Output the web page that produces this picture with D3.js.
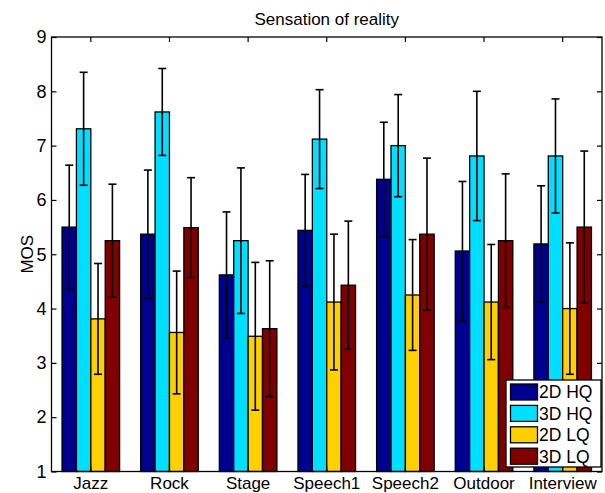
<!DOCTYPE html>
<html>
<head>
<meta charset="utf-8">
<script src="https://cdn.jsdelivr.net/npm/d3@7"></script>
<style>
  body { margin: 0; background: #fff; }
  svg text { font-family: "Liberation Sans", Arial, Helvetica, sans-serif; fill: #000; }
</style>
</head>
<body>
<div id="chart"></div>
<script>
// categories and series
const categories = ["Jazz", "Rock", "Stage", "Speech1", "Speech2", "Outdoor", "Interview"];
const seriesNames = ["2D HQ", "3D HQ", "2D LQ", "3D LQ"];
const seriesColors = ["#000090", "#00DFFF", "#FFD000", "#800000"];

// mean opinion scores, per series
const hq2d = [5.50, 5.37, 4.62, 5.44, 6.38, 5.06, 5.19];
const hq3d = [7.31, 7.62, 5.25, 7.12, 7.00, 6.81, 6.81];
const lq2d = [3.81, 3.56, 3.49, 4.12, 4.25, 4.12, 4.00];
const lq3d = [5.25, 5.49, 3.63, 4.43, 5.37, 5.25, 5.50];

// error bar half-lengths
const hq2dErr = [1.14, 1.18, 1.16, 1.03, 1.05, 1.28, 1.07];
const hq3dErr = [1.04, 0.80, 1.34, 0.91, 0.94, 1.19, 1.05];
const lq2dErr = [1.02, 1.13, 1.36, 1.25, 1.02, 1.06, 1.21];
const lq3dErr = [1.04, 0.92, 1.25, 1.18, 1.40, 1.23, 1.40];

const yTicks = [1, 2, 3, 4, 5, 6, 7, 8, 9];

const means = [hq2d, hq3d, lq2d, lq3d];
const errs = [hq2dErr, hq3dErr, lq2dErr, lq3dErr];

// flat table for drawing
const rows = [];
categories.forEach((c, i) => {
  seriesNames.forEach((s, j) => {
    rows.push({cat: c, series: s, value: means[j][i], err: errs[j][i], color: seriesColors[j]});
  });
});

const width = 605, height = 493;
const plotLeft = 51.5, plotRight = 602, plotTop = 37, plotBottom = 471.5;

const svg = d3.select("#chart").append("svg")
  .attr("width", width)
  .attr("height", height);

const x = d3.scaleBand()
  .domain(categories)
  .range([plotLeft, plotRight])
  .paddingInner(0.268)
  .paddingOuter(0.134);

const xSub = d3.scaleBand()
  .domain(seriesNames)
  .range([0, x.bandwidth()]);

const y = d3.scaleLinear()
  .domain([1, 9])
  .range([plotBottom, plotTop]);

// bars
svg.append("g")
  .selectAll("rect")
  .data(rows)
  .join("rect")
  .attr("x", d => x(d.cat) + xSub(d.series))
  .attr("y", d => y(d.value))
  .attr("width", xSub.bandwidth())
  .attr("height", d => y(1) - y(d.value))
  .attr("fill", d => d.color)
  .attr("stroke", "#000")
  .attr("stroke-width", 1.3);

// error bars
const eb = svg.append("g")
  .attr("stroke", "#000")
  .attr("stroke-width", 1.6)
  .selectAll("g")
  .data(rows)
  .join("g")
  .attr("transform", d => `translate(${x(d.cat) + xSub(d.series) + xSub.bandwidth() / 2},0)`);

eb.append("line")
  .attr("y1", d => y(d.value - d.err))
  .attr("y2", d => y(d.value + d.err));
eb.append("line")
  .attr("x1", -4).attr("x2", 4)
  .attr("y1", d => y(d.value + d.err))
  .attr("y2", d => y(d.value + d.err));
eb.append("line")
  .attr("x1", -4).attr("x2", 4)
  .attr("y1", d => y(d.value - d.err))
  .attr("y2", d => y(d.value - d.err));

// axes, ticks pointing inwards
const yAxis = svg.append("g")
  .attr("transform", `translate(${plotLeft},0)`)
  .call(d3.axisLeft(y).tickValues(yTicks).tickFormat(d3.format("d"))
    .tickSizeInner(-5).tickSizeOuter(0).tickPadding(5));
yAxis.selectAll("text").style("font-size", "18px");

svg.append("g")
  .attr("transform", `translate(${plotRight},0)`)
  .call(d3.axisRight(y).tickValues(yTicks).tickFormat("")
    .tickSizeInner(-5).tickSizeOuter(0));

const xAxis = svg.append("g")
  .attr("transform", `translate(0,${plotBottom})`)
  .call(d3.axisBottom(x).tickSizeInner(-5).tickSizeOuter(0).tickPadding(5));
xAxis.selectAll("text").style("font-size", "17px");

svg.append("g")
  .attr("transform", `translate(0,${plotTop})`)
  .call(d3.axisTop(x).tickFormat("").tickSizeInner(-5).tickSizeOuter(0));

svg.selectAll(".domain").remove();
svg.selectAll(".tick line").attr("stroke", "#000").attr("stroke-width", 1.2);

// frame
svg.append("rect")
  .attr("x", plotLeft).attr("y", plotTop)
  .attr("width", plotRight - plotLeft).attr("height", plotBottom - plotTop)
  .attr("fill", "none")
  .attr("stroke", "#000")
  .attr("stroke-width", 1.3);

// title and axis label
svg.append("text")
  .attr("x", (plotLeft + plotRight) / 2)
  .attr("y", 25)
  .attr("text-anchor", "middle")
  .style("font-size", "17px")
  .text("Sensation of reality");

svg.append("text")
  .attr("transform", `translate(33,${(plotTop + plotBottom) / 2}) rotate(-90)`)
  .attr("text-anchor", "middle")
  .style("font-size", "17px")
  .text("MOS");

// legend
const legend = svg.append("g").attr("transform", "translate(506,380)");
legend.append("rect")
  .attr("width", 95).attr("height", 87)
  .attr("fill", "#fff")
  .attr("stroke", "#000")
  .attr("stroke-width", 1.3);

const item = legend.selectAll("g")
  .data(seriesNames)
  .join("g")
  .attr("transform", (d, i) => `translate(0,${12 + i * 21.4})`);

item.append("rect")
  .attr("x", 4.5).attr("y", -8)
  .attr("width", 27).attr("height", 16)
  .attr("fill", (d, i) => seriesColors[i])
  .attr("stroke", "#000")
  .attr("stroke-width", 1.3);

item.append("text")
  .attr("x", 33)
  .attr("dy", "0.36em")
  .style("font-size", "17.5px")
  .text(d => d);
</script>
</body>
</html>
